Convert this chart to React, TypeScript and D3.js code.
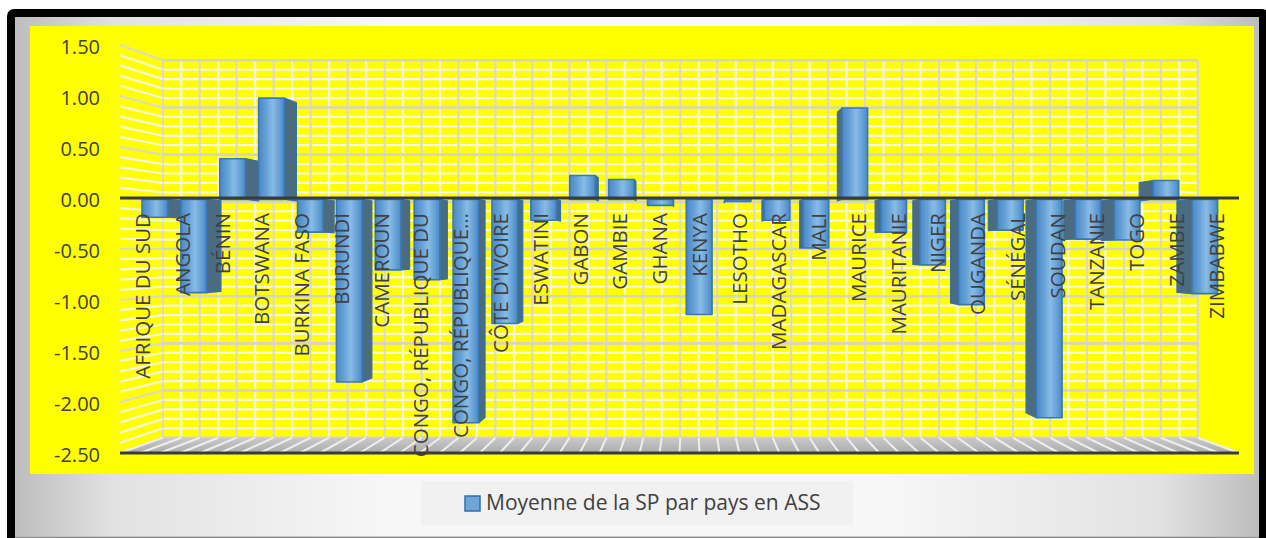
import React from "react";
import * as d3 from "d3";

const categories = [
  "AFRIQUE DU SUD", "ANGOLA", "BÉNIN", "BOTSWANA", "BURKINA FASO", "BURUNDI",
  "CAMEROUN", "CONGO, RÉPUBLIQUE DU", "CONGO, RÉPUBLIQUE…", "CÔTE D'IVOIRE",
  "ESWATINI", "GABON", "GAMBIE", "GHANA", "KENYA", "LESOTHO", "MADAGASCAR",
  "MALI", "MAURICE", "MAURITANIE", "NIGER", "OUGANDA", "SÉNÉGAL", "SOUDAN",
  "TANZANIE", "TOGO", "ZAMBIE", "ZIMBABWE",
];
const values = [
  -0.18, -0.94, 0.41, 1.02, -0.33, -1.84,
  -0.71, -0.81, -2.25, -1.25,
  -0.21, 0.24, 0.2, -0.06, -1.16, -0.02, -0.21,
  -0.49, 0.92, -0.33, -0.66, -1.06, -0.31, -2.2,
  -0.4, -0.41, 0.19, -0.95,
];
const yTickValues = [1.5, 1, 0.5, 0, -0.5, -1, -1.5, -2, -2.5];
const seriesName = "Moyenne de la SP par pays en ASS";

const W = 1266;
const H = 538;
const VX = 690;
const VY = 249;
const S_BACK = 0.925;
const S_BAR_F = 0.973;
const S_BAR_B = 0.944;
const S_LABEL = 0.995;
const GAP = 0.17;
const FONT = "'Open Sans', 'DejaVu Sans', sans-serif";
const TXT = "#404040";

const fmt = d3.formatLocale({ decimal: ".", thousands: ",", grouping: [3], currency: ["", ""], minus: "-" }).format(".2f");

function proj(x: number, y: number, s: number): [number, number] {
  return [VX + (x - VX) * s, VY + (y - VY) * s];
}
function poly(pts: [number, number][]) {
  return "M" + pts.map((p) => p[0].toFixed(2) + "," + p[1].toFixed(2)).join("L") + "Z";
}

export default function App() {
  const xBand = d3.scaleBand<string>().domain(categories).range([120, 1239]).padding(0);
  const bw = xBand.bandwidth();
  const yF = d3.scaleLinear().domain([-2.5, 1.5]).range([453, 45]);
  const xL = 120;
  const xR = 1239;
  const yTop = yF(1.5);
  const yBot = yF(-2.5);

  const minor = d3.range(-25, 16).map((k) => ({ v: k / 10, major: k % 5 === 0 }));
  const verts = d3.range(0, categories.length * 2 + 1).map((k) => ({ x: xL + (k * bw) / 2, major: k % 2 === 0 }));

  const [bwL, bwT] = proj(xL, yTop, S_BACK);
  const [bwR, bwB] = proj(xR, yBot, S_BACK);

  const order = categories.map((c, i) => i).sort((a, b) => {
    const ca = (xBand(categories[a]) as number) + bw / 2;
    const cb = (xBand(categories[b]) as number) + bw / 2;
    return Math.abs(cb - VX) - Math.abs(ca - VX);
  });

  return (
    <svg width={W} height={H} style={{ position: "absolute", left: 0, top: 0, display: "block" }} xmlns="http://www.w3.org/2000/svg">
      <defs>
        <linearGradient id="frameG" x1="0" x2="1" y1="0" y2="0">
          <stop offset="0" stopColor="#bdbdbd" />
          <stop offset="0.08" stopColor="#e2e2e2" />
          <stop offset="0.3" stopColor="#f7f7f7" />
          <stop offset="0.7" stopColor="#f7f7f7" />
          <stop offset="0.92" stopColor="#e2e2e2" />
          <stop offset="1" stopColor="#bdbdbd" />
        </linearGradient>
        <linearGradient id="barG" x1="0" x2="1" y1="0" y2="0">
          <stop offset="0" stopColor="#4b89c4" />
          <stop offset="0.3" stopColor="#66a1d6" />
          <stop offset="0.55" stopColor="#88bce6" />
          <stop offset="0.8" stopColor="#66a1d6" />
          <stop offset="1" stopColor="#4b89c4" />
        </linearGradient>
        <linearGradient id="floorG" x1="0" x2="0" y1="0" y2="1">
          <stop offset="0" stopColor="#cacaca" />
          <stop offset="1" stopColor="#ababab" />
        </linearGradient>
      </defs>

      <rect x={0} y={0} width={W} height={H} fill="#ffffff" />
      <rect x={7} y={9} width={1262} height={560} rx={7} fill="#000" />
      <rect x={15} y={17} width={1244} height={520} fill="url(#frameG)" />
      <line x1={15} x2={1259} y1={537} y2={537} stroke="#b8b8b8" strokeWidth={1.5} />
      <rect x={30} y={26} width={1224} height={448} fill="#ffff00" />

      {/* back wall */}
      <rect x={bwL} y={bwT} width={bwR - bwL} height={bwB - bwT} fill="#ffff00" />
      {minor.filter((m) => !m.major).map((m, i) => {
        const [x1, y1] = proj(xL, yF(m.v), S_BACK);
        const [x2] = proj(xR, yF(m.v), S_BACK);
        return <line key={"hm" + i} x1={x1} x2={x2} y1={y1} y2={y1} stroke="#f7f7e4" strokeWidth={2.2} />;
      })}
      {verts.map((vv, i) => {
        const [x1, y1] = proj(vv.x, yTop, S_BACK);
        const [, y2] = proj(vv.x, yBot, S_BACK);
        return <line key={"v" + i} x1={x1} x2={x1} y1={y1} y2={y2} stroke={vv.major ? "#dcdac6" : "#f6f6e2"} strokeWidth={2.2} />;
      })}
      {minor.filter((m) => m.major).map((m, i) => {
        const [x1, y1] = proj(xL, yF(m.v), S_BACK);
        const [x2] = proj(xR, yF(m.v), S_BACK);
        return <line key={"hM" + i} x1={x1} x2={x2} y1={y1} y2={y1} stroke="#d6d4c2" strokeWidth={2.6} />;
      })}

      {/* side wall */}
      {minor.map((m, i) => {
        const [x1, y1] = proj(xL, yF(m.v), 1);
        const [x2, y2] = proj(xL, yF(m.v), S_BACK);
        return <line key={"s" + i} x1={x1} x2={x2} y1={y1} y2={y2} stroke={m.major ? "#dcdac6" : "#f6f6e2"} strokeWidth={2.2} />;
      })}

      {/* floor */}
      <path d={poly([proj(xL, yBot, 1), proj(xR, yBot, 1), proj(xR, yBot, S_BACK), proj(xL, yBot, S_BACK)])} fill="url(#floorG)" />
      {verts.map((vv, i) => {
        const [x1, y1] = proj(vv.x, yBot, 1);
        const [x2, y2] = proj(vv.x, yBot, S_BACK);
        return <line key={"f" + i} x1={x1} x2={x2} y1={y1} y2={y2} stroke="#eeeeee" strokeWidth={2} />;
      })}
      <line x1={xL} x2={xR} y1={yBot} y2={yBot} stroke="#3a3a3a" strokeWidth={3} />

      {/* bars */}
      {order.map((i) => {
        const c = categories[i];
        const v = values[i];
        const x0 = (xBand(c) as number) + GAP * bw;
        const x1 = (xBand(c) as number) + (1 - GAP) * bw;
        const y0 = yF(0);
        const yv = yF(v);
        const cx = (x0 + x1) / 2;
        const sx = cx < VX ? x1 : x0;
        const side = poly([proj(sx, y0, S_BAR_F), proj(sx, yv, S_BAR_F), proj(sx, yv, S_BAR_B), proj(sx, y0, S_BAR_B)]);
        const front = poly([proj(x0, y0, S_BAR_F), proj(x1, y0, S_BAR_F), proj(x1, yv, S_BAR_F), proj(x0, yv, S_BAR_F)]);
        return (
          <g key={"b" + i}>
            <path d={side} fill="#4a6b80" stroke="#3470ab" strokeWidth={1.2} strokeLinejoin="round" />
            <path d={front} fill="url(#barG)" stroke="#3878b8" strokeWidth={1.6} strokeLinejoin="round" />
          </g>
        );
      })}

      {/* zero line */}
      <line x1={xL} x2={xR} y1={yF(0)} y2={yF(0)} stroke="#3a3a3a" strokeWidth={3} />

      {/* category labels */}
      {categories.map((c, i) => {
        const [lx] = proj((xBand(c) as number) + bw / 2, yF(0), S_LABEL);
        const ly = 213;
        return (
          <text key={"l" + i} x={lx} y={ly} transform={`rotate(-90 ${lx} ${ly})`} textAnchor="end" dy="0.36em"
            fontFamily={FONT} fontSize={20.5} fill={TXT}>{c}</text>
        );
      })}

      {/* value axis labels */}
      {yTickValues.map((t, i) => (
        <text key={"t" + i} x={100} y={yF(t) + 1.5} textAnchor="end" dy="0.36em" fontFamily={FONT} fontSize={20} fill={TXT}>
          {fmt(t)}
        </text>
      ))}

      {/* legend */}
      <rect x={421} y={481} width={432} height={44} fill="#f1f1f1" />
      <rect x={465} y={496} width={15} height={15} fill="#6ea6da" stroke="#2f70b0" strokeWidth={1.5} />
      <text x={486} y={510} fontFamily={FONT} fontSize={21} fill={TXT}>{seriesName}</text>
    </svg>
  );
}
